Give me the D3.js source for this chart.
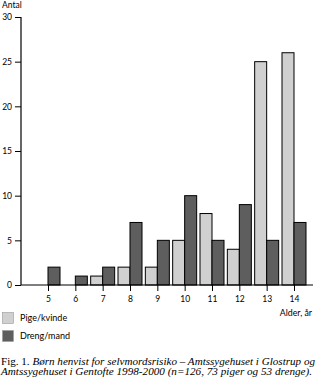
<!DOCTYPE html>
<html><head><meta charset="utf-8">
<script src="https://cdn.jsdelivr.net/npm/d3@7"></script>
<style>body{margin:0;background:#fff}svg{display:block}</style>
</head><body>
<svg id="c" width="323" height="384"></svg>
<script>
const ages = [5,6,7,8,9,10,11,12,13,14];
const pige = [0,0,1,2,2,5,8,4,25,26];
const dreng = [2,1,2,7,5,10,5,9,5,7];
const yTicks = [0,5,10,15,20,25,30];
const seriesNames = ["Pige/kvinde","Dreng/mand"];
const colors = ["#d0d0d0","#5e5e5e"];

const svg = d3.select("#c");
const sans = "Lato, 'Open Sans', sans-serif";
const serif = "'Liberation Serif', 'DejaVu Serif', serif";

const x = d3.scalePoint().domain(ages).range([48,294]);
const y = d3.scaleLinear().domain([0,30]).range([285,17]);
const bw = 12;

// bars
const g = svg.append("g");
g.selectAll("rect.p").data(ages).join("rect")
  .attr("x", d=>x(d)-bw).attr("width", bw)
  .attr("y", (d,i)=>y(pige[i])).attr("height",(d,i)=>y(0)-y(pige[i]))
  .attr("fill", colors[0]).attr("stroke", (d,i)=>pige[i]?"#000":"none").attr("stroke-width",1);
g.selectAll("rect.d").data(ages).join("rect")
  .attr("x", d=>x(d)).attr("width", bw)
  .attr("y", (d,i)=>y(dreng[i])).attr("height",(d,i)=>y(0)-y(dreng[i]))
  .attr("fill", colors[1]).attr("stroke","#000").attr("stroke-width",1);

// y axis
const ya = svg.append("g").attr("transform","translate(21,0)")
  .call(d3.axisLeft(y).tickValues(yTicks).tickSize(6).tickPadding(3));
ya.select(".domain").attr("d","M0,"+y(30)+"V"+y(0)).attr("stroke","#000").attr("stroke-width",1.2);
ya.selectAll(".tick line").attr("stroke","#000");
ya.selectAll(".tick text").attr("font-family",sans).attr("font-size",8.5).attr("fill","#000");

// x axis
const xa = svg.append("g").attr("transform","translate(0,285)")
  .call(d3.axisBottom(x).tickSize(6).tickPadding(5));
xa.select(".domain").attr("d","M21,0H313").attr("stroke","#000").attr("stroke-width",1.2);
xa.selectAll(".tick line").attr("stroke","#000");
xa.selectAll(".tick text").attr("font-family",sans).attr("font-size",8.5).attr("fill","#000");

svg.append("text").attr("x",2).attr("y",8).attr("font-family",sans).attr("font-size",8.5).text("Antal");
svg.append("text").attr("x",312).attr("y",316).attr("text-anchor","end").attr("font-family",sans).attr("font-size",8.8).text("Alder, år");

// legend
const leg = svg.append("g");
seriesNames.forEach((n,i)=>{
  leg.append("rect").attr("x",2.5).attr("y",312.5+i*18).attr("width",11).attr("height",11)
    .attr("fill",colors[i]).attr("stroke","#999").attr("stroke-width",0.6);
  leg.append("text").attr("x",20).attr("y",321+i*18).attr("font-family",sans).attr("font-size",9).text(n);
});

// caption
const c1 = svg.append("text").attr("x",1).attr("y",365).attr("font-family",serif).attr("font-size",10)
  .attr("textLength",314).attr("lengthAdjust","spacingAndGlyphs");
c1.append("tspan").text("Fig. 1. ");
c1.append("tspan").attr("font-style","italic").text("Børn henvist for selvmordsrisiko – Amtssygehuset i Glostrup og");
svg.append("text").attr("x",1).attr("y",375).attr("font-family",serif).attr("font-size",10).attr("font-style","italic")
  .attr("textLength",311).attr("lengthAdjust","spacingAndGlyphs")
  .text("Amtssygehuset i Gentofte 1998-2000 (n=126, 73 piger og 53 drenge).");
</script>
</body></html>
